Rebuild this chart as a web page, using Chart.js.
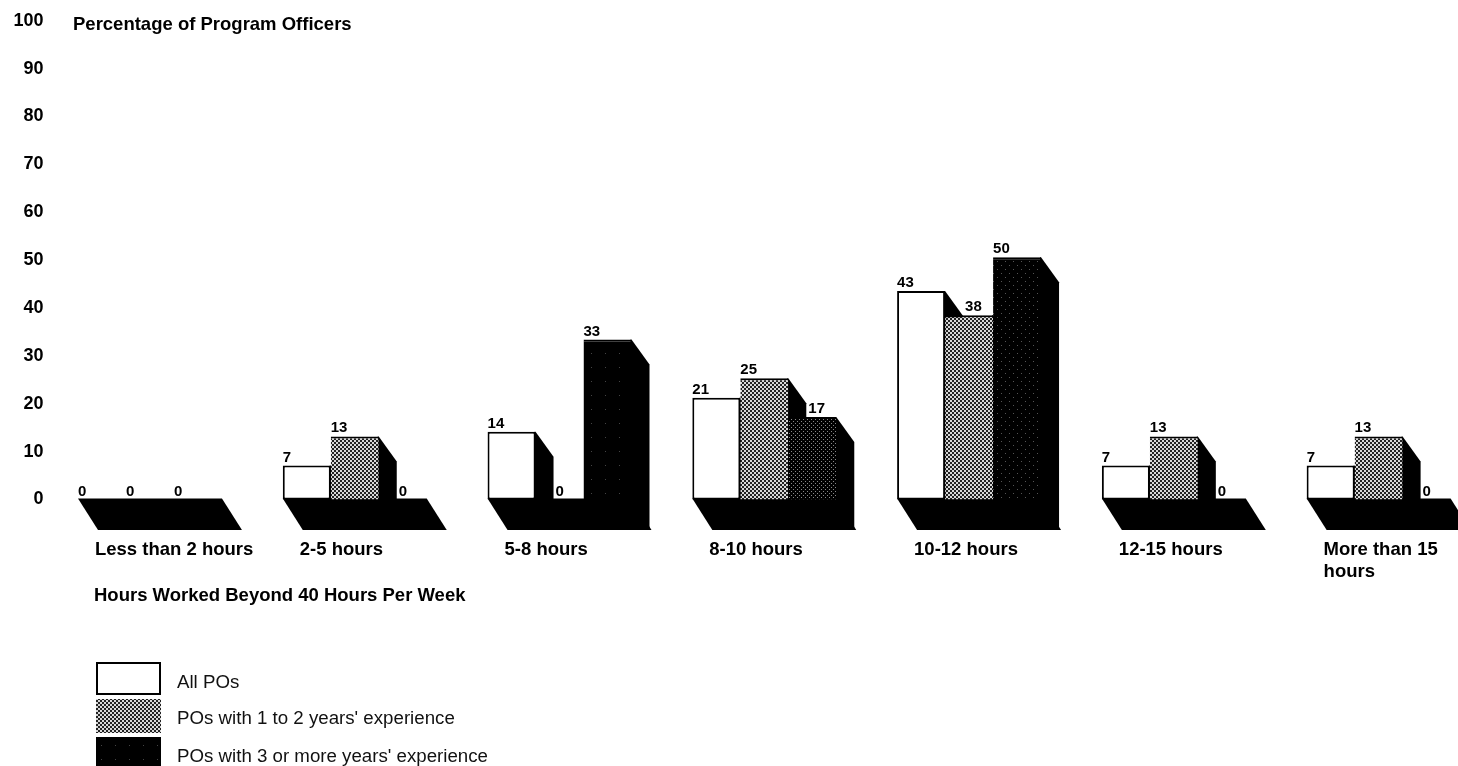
<!DOCTYPE html>
<html>
<head>
<meta charset="utf-8">
<title>Hours Worked Beyond 40 Hours Per Week</title>
<script src="https://cdn.jsdelivr.net/npm/chart.js@4"></script>
<style>
html, body { margin: 0; padding: 0; background: #fff; overflow: hidden; }
</style>
</head>
<body>
<canvas id="hoursChart" width="1500" height="766"></canvas>
<script>
const categories = ['Less than 2 hours', '2-5 hours', '5-8 hours', '8-10 hours', '10-12 hours', '12-15 hours', ['More than 15', 'hours']];
const allPOs = [0, 7, 14, 21, 43, 7, 7];
const junior = [0, 13, 0, 25, 38, 13, 13];
const senior = [0, 0, 33, 17, 50, 0, 0];
const seriesNames = ['All POs', "POs with 1 to 2 years' experience", "POs with 3 or more years' experience"];
const yTickValues = [0, 10, 20, 30, 40, 50, 60, 70, 80, 90, 100];

const FONT = '"Liberation Sans", Arial, sans-serif';

function dither(size, bg, fg, cells) {
    const c = document.createElement('canvas');
    c.width = c.height = size;
    const g = c.getContext('2d');
    g.fillStyle = bg;
    g.fillRect(0, 0, size, size);
    g.fillStyle = fg;
    cells.forEach(p => g.fillRect(p[0], p[1], p[2], p[2]));
    return g.createPattern(c, 'repeat');
}

const ctx = document.getElementById('hoursChart').getContext('2d');
const midFill = dither(4, '#d8d8d8', '#222', [[0, 0, 2], [2, 2, 2]]);
const denseFill = dither(4, '#000', '#888', [[1, 1, 1], [3, 3, 1]]);
const darkFill = dither(8, '#000', '#555', [[1, 1, 1], [5, 5, 1]]);
const sparseFill = dither(14, '#000', '#444', [[3, 3, 1]]);
const seniorFills = ['#000', '#000', sparseFill, denseFill, darkFill, '#000', '#000'];
const swatches = ['#fff', midFill, sparseFill];

const DEPTH_X = 18, DEPTH_Y = 25, FLOOR_X = 20, FLOOR_Y = 30.5;

// slab under each group, then each series left to right with its black side face,
// so a bar always covers the side of the one before it
const extrude = {
    id: 'extrude',
    beforeDatasetsDraw(chart) {
        const g = chart.ctx;
        const first = chart.getDatasetMeta(0).data;
        const last = chart.getDatasetMeta(2).data;
        g.fillStyle = '#000';
        first.forEach((bar, i) => {
            const l = bar.x - bar.width / 2, r = last[i].x + last[i].width / 2, b = bar.base;
            g.beginPath();
            g.moveTo(l, b - 1);
            g.lineTo(r, b - 1);
            g.lineTo(r + FLOOR_X, b + FLOOR_Y);
            g.lineTo(l + FLOOR_X, b + FLOOR_Y);
            g.closePath();
            g.fill();
        });
        chart.data.datasets.forEach((ds, d) => {
            const meta = chart.getDatasetMeta(d);
            g.fillStyle = '#000';
            meta.data.forEach(bar => {
                if (bar.base - bar.y < 1) return;
                const r = bar.x + bar.width / 2;
                g.beginPath();
                g.moveTo(r - 1, bar.y);
                g.lineTo(r, bar.y);
                g.lineTo(r + DEPTH_X, bar.y + DEPTH_Y);
                g.lineTo(r + DEPTH_X, bar.base + FLOOR_Y);
                g.lineTo(r - 1, bar.base + FLOOR_Y);
                g.closePath();
                g.fill();
            });
            meta.controller.draw();
        });
        return false;
    }
};

// values above bars, titles and the key
const annotate = {
    id: 'annotate',
    afterDraw(chart) {
        const g = chart.ctx;
        g.save();
        g.fillStyle = '#000';
        g.textBaseline = 'alphabetic';
        g.textAlign = 'left';
        g.font = 'bold 15px ' + FONT;
        chart.data.datasets.forEach((ds, d) => {
            chart.getDatasetMeta(d).data.forEach((bar, i) => {
                const prev = d > 0 ? chart.data.datasets[d - 1].data[i] : -1;
                const shift = prev > ds.data[i] ? 20 : 0;
                g.fillText(ds.data[i], bar.x - bar.width / 2 + shift, bar.y - 4);
            });
        });
        g.font = 'bold 18.5px ' + FONT;
        g.fillText('Percentage of Program Officers', 73, 30);
        g.fillText('Hours Worked Beyond 40 Hours Per Week', 94, 601);

        g.font = '18.7px ' + FONT;
        const rows = [[662, 33, 688], [699, 34, 724], [737, 34, 762]];
        rows.forEach((row, i) => {
            g.fillStyle = swatches[i];
            g.fillRect(96, row[0], 65, row[1]);
            if (i === 0) {
                g.strokeStyle = '#000';
                g.lineWidth = 2;
                g.strokeRect(97, row[0] + 1, 63, row[1] - 2);
            }
            g.fillStyle = '#111';
            g.fillText(seriesNames[i], 177, row[2]);
        });
        g.restore();
    }
};

new Chart(ctx, {
    type: 'bar',
    data: {
        labels: categories,
        datasets: [
            { label: seriesNames[0], data: allPOs, backgroundColor: '#fff', borderColor: '#000', borderWidth: 2, borderSkipped: false },
            { label: seriesNames[1], data: junior, backgroundColor: midFill, borderColor: '#000', borderWidth: { top: 2 }, borderSkipped: false },
            { label: seriesNames[2], data: senior, backgroundColor: seniorFills, borderColor: '#000', borderWidth: { top: 2 }, borderSkipped: false }
        ]
    },
    options: {
        responsive: false,
        animation: false,
        categoryPercentage: 0.703,
        barPercentage: 1,
        layout: { padding: { top: 14.5, right: 19, left: 0, bottom: 0 } },
        plugins: { legend: { display: false }, title: { display: false }, tooltip: { enabled: false } },
        scales: {
            x: {
                grid: { display: false },
                border: { display: false },
                afterFit(scale) {
                    scale.height = 266.5;
                    scale.paddingLeft = 0;
                    scale.paddingRight = 0;
                },
                ticks: {
                    align: 'start',
                    labelOffset: -55,
                    padding: 31,
                    maxRotation: 0,
                    autoSkip: false,
                    color: '#000',
                    font: { family: FONT, weight: 'bold', size: 18.5 }
                }
            },
            y: { display: false, min: 0, max: 100 },
            // labels sit on a slightly tighter spacing than the bars
            yLabels: {
                position: 'left',
                min: 0,
                max: 101.25,
                grid: { display: false, drawTicks: false },
                border: { display: false },
                afterFit(scale) { scale.width = 47.6; },
                afterBuildTicks(scale) { scale.ticks = yTickValues.map(v => ({ value: v })); },
                ticks: {
                    padding: 4,
                    color: '#000',
                    font: { family: FONT, weight: 'bold', size: 18 }
                }
            }
        }
    },
    plugins: [extrude, annotate]
});
</script>
</body>
</html>
